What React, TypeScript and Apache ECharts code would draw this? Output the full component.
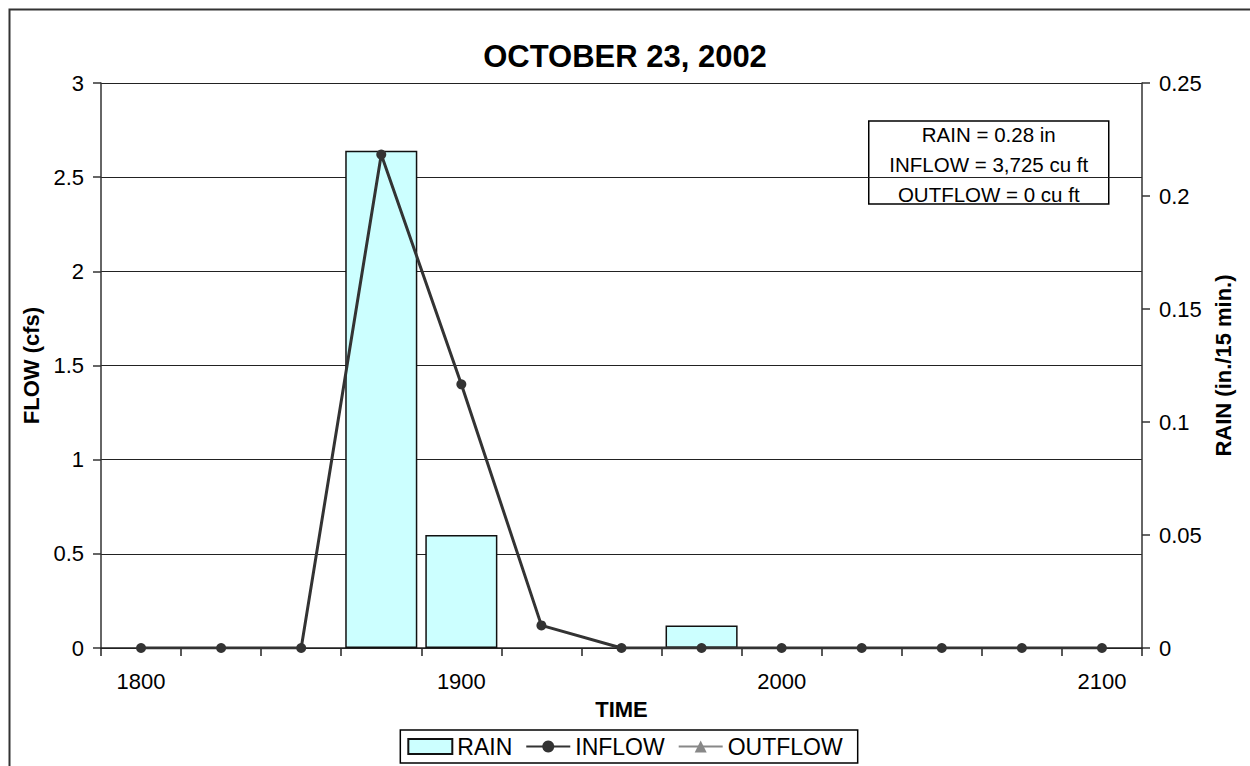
import React, { useEffect, useRef } from "react";
import * as echarts from "echarts";

const times = ["1800", "1815", "1830", "1845", "1900", "1915", "1930", "1945", "2000", "2015", "2030", "2045", "2100"];
const rain = [0, 0, 0, 0.22, 0.05, 0, 0, 0.01, 0, 0, 0, 0, 0];
const inflow = [0, 0, 0, 2.62, 1.4, 0.12, 0, 0, 0, 0, 0, 0, 0];
const outflow: (number | null)[] = [null, null, null, null, null, null, null, null, null, null, null, null, null];
const titleText = "OCTOBER 23, 2002";
const noteLines = ["RAIN = 0.28 in", "INFLOW = 3,725 cu ft", "OUTFLOW = 0 cu ft"];

const FONT = "'Liberation Sans', Arial, sans-serif";

export default function App() {
  const ref = useRef<HTMLDivElement>(null);
  useEffect(() => {
    if (!ref.current) return;
    const chart = echarts.init(ref.current, null, { renderer: "svg" });
    chart.setOption({
      animation: false,
      backgroundColor: "#fff",
      textStyle: { fontFamily: FONT, color: "#000" },
      title: {
        text: titleText,
        left: "center",
        top: 36,
        textStyle: { fontFamily: FONT, fontSize: 31, fontWeight: "bold", color: "#000" },
      },
      grid: { left: 101, right: 108, top: 83, bottom: 118, containLabel: false },
      legend: {
        bottom: 3,
        left: "center",
        itemWidth: 44,
        itemHeight: 15,
        itemGap: 13,
        borderColor: "#000",
        borderWidth: 1.5,
        padding: [5, 15, 5, 7],
        textStyle: { fontFamily: FONT, fontSize: 23, color: "#000" },
        data: [
          { name: "RAIN", icon: "rect" },
          { name: "INFLOW" },
          { name: "OUTFLOW" },
        ],
      },
      xAxis: {
        type: "category",
        data: times,
        boundaryGap: true,
        name: "TIME",
        nameLocation: "middle",
        nameGap: 50,
        nameTextStyle: { fontFamily: FONT, fontSize: 22, fontWeight: "bold", color: "#000" },
        axisLine: { lineStyle: { color: "#222", width: 1.5 } },
        axisTick: { show: true, interval: 0, length: 8, lineStyle: { color: "#222", width: 1.5 } },
        axisLabel: { interval: 3, margin: 22, fontFamily: FONT, fontSize: 22, color: "#000" },
        splitLine: { show: false },
      },
      yAxis: [
        {
          type: "value",
          min: 0,
          max: 3,
          interval: 0.5,
          name: "FLOW (cfs)",
          nameLocation: "middle",
          nameGap: 47,
          nameTextStyle: { fontFamily: FONT, fontSize: 22, fontWeight: "bold", color: "#000" },
          axisLine: { show: true, lineStyle: { color: "#333", width: 1.5 } },
          axisTick: { show: true, length: 8, lineStyle: { color: "#333", width: 1.5 } },
          axisLabel: { margin: 17, fontFamily: FONT, fontSize: 22, color: "#000" },
          splitLine: { show: true, lineStyle: { color: "#222", width: 1 } },
        },
        {
          type: "value",
          min: 0,
          max: 0.25,
          interval: 0.05,
          position: "right",
          name: "RAIN (in./15 min.)",
          nameLocation: "middle",
          nameGap: 61,
          nameTextStyle: { fontFamily: FONT, fontSize: 22, fontWeight: "bold", color: "#000" },
          axisLine: { show: true, lineStyle: { color: "#333", width: 1.5 } },
          axisTick: { show: true, length: 8, lineStyle: { color: "#333", width: 1.5 } },
          axisLabel: { margin: 17, fontFamily: FONT, fontSize: 22, color: "#000" },
          splitLine: { show: false },
        },
      ],
      series: [
        {
          name: "RAIN",
          type: "bar",
          yAxisIndex: 1,
          barCategoryGap: "10%",
          data: rain.map((v) => (v === 0 ? null : v)),
          itemStyle: { color: "#CCFFFF", borderColor: "#111", borderWidth: 1.5 },
          z: 2,
        },
        {
          name: "INFLOW",
          type: "line",
          yAxisIndex: 0,
          data: inflow,
          symbol: "circle",
          symbolSize: 10,
          lineStyle: { color: "#333", width: 3 },
          itemStyle: { color: "#333" },
          z: 4,
        },
        {
          name: "OUTFLOW",
          type: "line",
          yAxisIndex: 0,
          data: outflow,
          symbol: "triangle",
          symbolSize: 8,
          lineStyle: { color: "#888", width: 1.5 },
          itemStyle: { color: "#888" },
          z: 3,
        },
      ],
      graphic: [
        {
          type: "rect",
          left: 7,
          top: 7,
          shape: { x: 0, y: 0, width: 1400, height: 900 },
          style: { fill: "none", stroke: "#333", lineWidth: 2 },
          silent: true,
          z: -10,
        },
        {
          type: "group",
          left: 868,
          top: 119,
          z: 100,
          children: [
            {
              type: "rect",
              shape: { x: 0, y: 0, width: 240, height: 83 },
              style: { fill: "#fff", stroke: "#000", lineWidth: 1.5 },
            },
            {
              type: "text",
              x: 120,
              y: -2,
              style: {
                text: noteLines.join("\n"),
                align: "center",
                verticalAlign: "top",
                fontFamily: FONT,
                fontSize: 20.5,
                lineHeight: 30,
                fill: "#000",
              },
            },
          ],
        },
      ],
    });
    return () => chart.dispose();
  }, []);
  return <div ref={ref} style={{ position: "fixed", left: 0, top: 0, width: 1250, height: 766 }} />;
}
